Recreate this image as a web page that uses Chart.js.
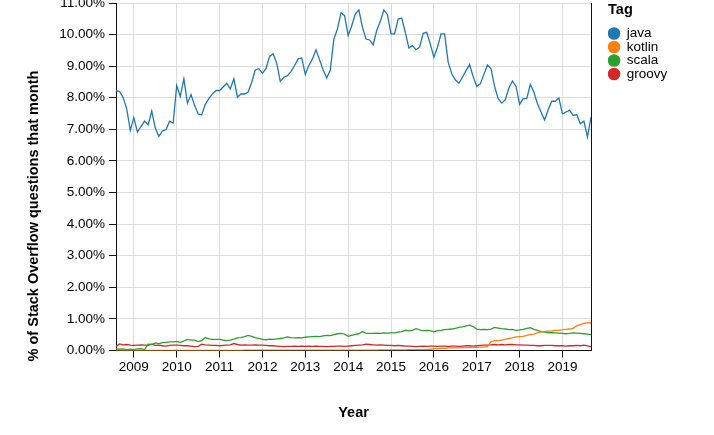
<!DOCTYPE html>
<html>
<head>
<meta charset="utf-8">
<script src="https://cdn.jsdelivr.net/npm/chart.js@4.4.1/dist/chart.umd.min.js"></script>
<style>
  html, body { margin: 0; padding: 0; background: #fff; }
  #wrap { width: 714px; height: 435px; }
</style>
</head>
<body>
<div id="wrap"><canvas id="chart" width="714" height="435"></canvas></div>
<script>
// monthly series, Aug 2008 .. Sep 2019, % of Stack Overflow questions
const firstYear = 2008;
const firstMonth = 8;

const java = [
  8.22, 8.20, 8.01, 7.65, 6.97,                                          // 2008
  7.37, 6.91, 7.09, 7.26, 7.14, 7.58, 7.04, 6.78, 6.95, 6.99, 7.26, 7.20, // 2009
  8.39, 8.04, 8.60, 7.83, 8.10, 7.76, 7.49, 7.46, 7.79, 7.97, 8.12, 8.23, // 2010
  8.23, 8.34, 8.46, 8.28, 8.60, 8.02, 8.12, 8.12, 8.18, 8.49, 8.88, 8.92, // 2011
  8.78, 8.92, 9.31, 9.39, 9.09, 8.52, 8.65, 8.70, 8.83, 9.02, 9.23, 9.26, // 2012
  8.74, 9.02, 9.23, 9.52, 9.20, 8.88, 8.63, 8.88, 9.86, 10.18, 10.69, 10.60, // 2013
  9.97, 10.28, 10.65, 10.78, 10.23, 9.86, 9.83, 9.68, 10.13, 10.42, 10.78, 10.63, // 2014
  10.02, 10.02, 10.49, 10.52, 10.07, 9.58, 9.65, 9.52, 9.60, 10.04, 10.07, 9.70, // 2015
  9.28, 9.60, 10.02, 10.02, 9.13, 8.76, 8.57, 8.46, 8.65, 8.86, 9.05, 8.67, // 2016
  8.36, 8.44, 8.74, 9.04, 8.92, 8.36, 7.97, 7.83, 7.94, 8.31, 8.53, 8.36, // 2017
  7.79, 7.97, 7.97, 8.42, 8.18, 7.81, 7.55, 7.30, 7.62, 7.89, 7.89, 7.99, // 2018
  7.49, 7.55, 7.60, 7.44, 7.47, 7.18, 7.26, 6.76, 7.39                    // 2019
];

const kotlin = [
  0, 0, 0, 0, 0,
  0, 0, 0, 0, 0, 0, 0, 0, 0, 0, 0, 0,
  0, 0, 0, 0, 0, 0, 0, 0, 0, 0, 0, 0,
  0, 0, 0, 0, 0, 0, 0, 0.01, 0.01, 0.01, 0.01, 0.01,
  0.01, 0.01, 0.01, 0.01, 0.01, 0.01, 0.01, 0.01, 0.01, 0.01, 0.01, 0.01,
  0.01, 0.01, 0.01, 0.01, 0.01, 0.01, 0.01, 0.01, 0.01, 0.01, 0.01, 0.01,
  0.01, 0.01, 0.01, 0.01, 0.01, 0.01, 0.01, 0.01, 0.01, 0.02, 0.02, 0.02,
  0.02, 0.02, 0.02, 0.02, 0.02, 0.03, 0.03, 0.03, 0.03, 0.03, 0.03, 0.04,
  0.05, 0.06, 0.07, 0.07, 0.08, 0.08, 0.08, 0.08, 0.09, 0.09, 0.09, 0.10,
  0.10, 0.11, 0.11, 0.12, 0.28, 0.31, 0.31, 0.33, 0.35, 0.38, 0.40, 0.43,
  0.44, 0.45, 0.48, 0.50, 0.52, 0.56, 0.59, 0.60, 0.61, 0.62, 0.64, 0.64,
  0.66, 0.67, 0.68, 0.70, 0.78, 0.82, 0.86, 0.88, 0.87
];

const scala = [
  0.05, 0.04, 0.05, 0.03, 0.04,
  0.03, 0.05, 0.06, 0.03, 0.20, 0.19, 0.24, 0.22, 0.25, 0.26, 0.27, 0.27,
  0.29, 0.25, 0.30, 0.35, 0.33, 0.33, 0.28, 0.31, 0.41, 0.37, 0.35, 0.35,
  0.35, 0.33, 0.31, 0.33, 0.36, 0.40, 0.41, 0.44, 0.48, 0.45, 0.41, 0.38,
  0.35, 0.34, 0.36, 0.35, 0.37, 0.38, 0.40, 0.43, 0.41, 0.40, 0.41, 0.40,
  0.42, 0.43, 0.44, 0.45, 0.44, 0.46, 0.48, 0.47, 0.50, 0.53, 0.54, 0.52,
  0.45, 0.48, 0.51, 0.53, 0.60, 0.55, 0.54, 0.54, 0.55, 0.54, 0.56, 0.55,
  0.56, 0.56, 0.58, 0.60, 0.64, 0.62, 0.64, 0.69, 0.65, 0.62, 0.64, 0.63,
  0.59, 0.63, 0.64, 0.66, 0.67, 0.68, 0.70, 0.73, 0.75, 0.78, 0.80, 0.76,
  0.68, 0.66, 0.67, 0.66, 0.68, 0.73, 0.71, 0.69, 0.68, 0.66, 0.67, 0.64,
  0.65, 0.67, 0.70, 0.72, 0.67, 0.64, 0.60, 0.58, 0.56, 0.57, 0.56, 0.55,
  0.54, 0.53, 0.54, 0.56, 0.55, 0.54, 0.53, 0.52, 0.50
];

const groovy = [
  0.13, 0.21, 0.18, 0.19, 0.17,
  0.16, 0.17, 0.18, 0.17, 0.16, 0.20, 0.16, 0.17, 0.15, 0.14, 0.16, 0.17,
  0.17, 0.16, 0.15, 0.15, 0.14, 0.12, 0.13, 0.20, 0.18, 0.17, 0.16, 0.16,
  0.15, 0.16, 0.17, 0.18, 0.22, 0.19, 0.17, 0.18, 0.17, 0.17, 0.18, 0.17,
  0.17, 0.16, 0.15, 0.15, 0.14, 0.13, 0.12, 0.13, 0.13, 0.14, 0.13, 0.14,
  0.13, 0.14, 0.13, 0.14, 0.13, 0.13, 0.12, 0.13, 0.13, 0.14, 0.14, 0.13,
  0.14, 0.15, 0.16, 0.17, 0.18, 0.20, 0.19, 0.18, 0.17, 0.18, 0.17, 0.16,
  0.16, 0.15, 0.16, 0.15, 0.14, 0.14, 0.13, 0.12, 0.13, 0.14, 0.13, 0.14,
  0.14, 0.13, 0.14, 0.14, 0.13, 0.14, 0.14, 0.13, 0.14, 0.15, 0.15, 0.14,
  0.15, 0.16, 0.17, 0.17, 0.18, 0.19, 0.18, 0.19, 0.18, 0.19, 0.19, 0.18,
  0.18, 0.17, 0.17, 0.16, 0.16, 0.15, 0.15, 0.16, 0.16, 0.16, 0.15, 0.15,
  0.15, 0.14, 0.15, 0.15, 0.16, 0.15, 0.17, 0.15, 0.12
];

const tags = ['java', 'kotlin', 'scala', 'groovy'];
const tagColors = ['#1f77b4', '#ff7f0e', '#2ca02c', '#d62728'];
const yearTicks = [2009, 2010, 2011, 2012, 2013, 2014, 2015, 2016, 2017, 2018, 2019];
const pctTicks = [0, 1, 2, 3, 4, 5, 6, 7, 8, 9, 10, 11];

// month index -> decimal year
const monthX = java.map((_, i) => firstYear + (firstMonth - 1 + i) / 12);

const font = '"Liberation Sans", Arial, Helvetica, sans-serif';
const axisColor = '#111';
const gridColor = '#dcdcdc';

let series = [java, kotlin, scala, groovy];
let datasets = tags.map((tag, k) => ({
  label: tag,
  data: series[k].map((v, i) => ({ x: monthX[i], y: v })),
  borderColor: tagColors[k],
  backgroundColor: tagColors[k],
  borderWidth: 1.3,
  pointRadius: 0,
  tension: 0,
  fill: false
}));

let noPad = (s) => { s.paddingTop = 0; s.paddingBottom = 0; s.paddingLeft = 0; s.paddingRight = 0; };

const yTitle = {
  id: 'yTitle',
  afterDraw(chart) {
    let ctx = chart.ctx;
    ctx.save();
    ctx.translate(34, 216);
    ctx.rotate(-Math.PI / 2);
    ctx.font = 'bold 14.5px ' + font;
    ctx.fillStyle = '#000';
    ctx.textAlign = 'center';
    ctx.textBaseline = 'middle';
    ctx.fillText('% of Stack Overflow questions that month', 0, 0);
    ctx.restore();
  }
};

new Chart(document.getElementById('chart'), {
  type: 'line',
  data: { datasets },
  plugins: [yTitle],
  options: {
    responsive: false,
    animation: false,
    layout: { padding: { top: 3, left: 0, right: 36.7, bottom: 0 } },
    plugins: {
      tooltip: { enabled: false },
      legend: {
        position: 'right',
        align: 'start',
        title: {
          display: true,
          text: 'Tag',
          position: 'start',
          color: '#000',
          font: { family: font, size: 14.5, weight: 'bold' },
          padding: { top: 0, bottom: 6.3 }
        },
        labels: {
          usePointStyle: true,
          pointStyle: 'circle',
          boxWidth: 12,
          boxHeight: 8,
          padding: 0,
          color: '#000',
          font: { family: font, size: 13.5 }
        }
      }
    },
    scales: {
      x: {
        type: 'linear',
        min: monthX[0],
        max: monthX[monthX.length - 1],
        afterBuildTicks: (axis) => { axis.ticks = yearTicks.map(v => ({ value: v })); },
        afterFit: (s) => { s.height = 84.5; noPad(s); },
        grid: { color: gridColor, tickColor: axisColor, tickLength: 7 },
        border: { display: true, color: axisColor, width: 1 },
        ticks: {
          padding: 2,
          color: '#000',
          maxRotation: 0,
          autoSkip: false,
          font: { family: font, size: 13.5 },
          callback: (v) => String(v)
        },
        title: {
          display: true,
          text: 'Year',
          color: '#000',
          font: { family: font, size: 14.5, weight: 'bold' },
          padding: { top: 0, bottom: 13.3 }
        }
      },
      y: {
        type: 'linear',
        min: 0,
        max: 11,
        afterBuildTicks: (axis) => { axis.ticks = pctTicks.map(v => ({ value: v })); },
        afterFit: (s) => { s.width = 116; noPad(s); },
        grid: { color: gridColor, tickColor: axisColor, tickLength: 7 },
        border: { display: true, color: axisColor, width: 1 },
        ticks: {
          padding: 4,
          color: '#000',
          autoSkip: false,
          font: { family: font, size: 13.5 },
          callback: (v) => v.toFixed(2) + '%'
        }
      },
      yRight: {
        type: 'linear',
        axis: 'y',
        position: 'right',
        display: true,
        afterFit: (s) => { s.width = 17; noPad(s); },
        grid: { display: false },
        ticks: { display: false },
        border: { display: true, color: axisColor, width: 1 }
      }
    }
  }
});
</script>
</body>
</html>
